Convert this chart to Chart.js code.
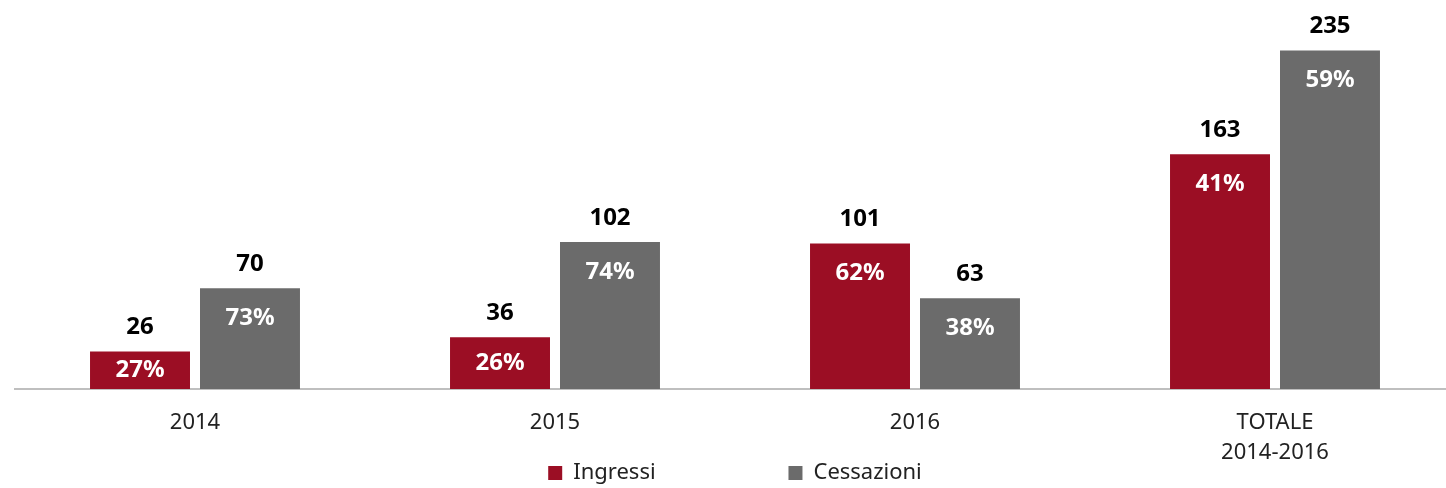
<!DOCTYPE html>
<html>
<head>
<meta charset="utf-8">
<script src="https://cdn.jsdelivr.net/npm/chart.js@4"></script>
<style>
  html, body { margin: 0; padding: 0; background: #fff; overflow: hidden; }
  #wrap { width: 1460px; height: 488px; }
</style>
</head>
<body>
<div id="wrap"><canvas id="chartIngressi"></canvas></div>
<script>
const categorie = ["2014", "2015", "2016", ["TOTALE", "2014-2016"]];
const ingressi = [26, 36, 101, 163];
const cessazioni = [70, 102, 63, 235];
const ingressiPerc = ["27%", "26%", "62%", "41%"];
const cessazioniPerc = ["73%", "74%", "38%", "59%"];

const FONT = "'Noto Sans', sans-serif";

// etichette sopra e dentro le barre
const etichette = {
  id: "etichette",
  afterDatasetsDraw(chart) {
    const ctx = chart.ctx;
    const perc = [ingressiPerc, cessazioniPerc];
    ctx.save();
    ctx.textAlign = "center";
    ctx.textBaseline = "middle";
    chart.data.datasets.forEach((ds, i) => {
      chart.getDatasetMeta(i).data.forEach((bar, j) => {
        ctx.font = "bold 24px " + FONT;
        ctx.fillStyle = "#000";
        ctx.fillText(ds.data[j], bar.x, bar.y - 24);
        const h = bar.base - bar.y;
        const y = h < 64 ? bar.y + h / 2 : bar.y + 30;
        ctx.fillStyle = "#fff";
        ctx.fillText(perc[i][j], bar.x, y);
      });
    });
    ctx.restore();
  }
};

var ctx = document.getElementById("chartIngressi").getContext("2d");
var myChart = new Chart(ctx, {
  type: "bar",
  data: {
    labels: categorie,
    datasets: [
      {
        label: "Ingressi",
        data: ingressi,
        backgroundColor: "#9B0E24",
        barPercentage: 0.909,
        categoryPercentage: 0.611,
      },
      {
        label: "Cessazioni",
        data: cessazioni,
        backgroundColor: "#6B6B6B",
        barPercentage: 0.909,
        categoryPercentage: 0.611,
      },
    ],
  },
  options: {
    responsive: true,
    maintainAspectRatio: false,
    animation: false,
    layout: { padding: { left: 15, right: 5, top: 0, bottom: -6 } },
    plugins: {
      tooltip: { enabled: false },
      legend: {
        position: "bottom",
        labels: {
          boxWidth: 14,
          boxHeight: 14,
          padding: 0,
          color: "#222",
          font: { family: FONT, size: 22 },
          // spazio largo tra le due voci
          generateLabels: (chart) => {
            const items = Chart.defaults.plugins.legend.labels.generateLabels(chart);
            items[0].text = items[0].text + "\u2003".repeat(5) + "    ";
            return items;
          },
        },
      },
    },
    scales: {
      x: {
        grid: { display: false },
        border: { display: true, color: "#BFBFBF", width: 2 },
        ticks: { color: "#222", font: { family: FONT, size: 22, lineHeight: 1.4 }, padding: 10 },
        afterFit: (s) => { s.height = 73; },
      },
      y: {
        display: false,
        min: 0,
        max: 270,
      },
    },
  },
  plugins: [etichette],
});
</script>
</body>
</html>
